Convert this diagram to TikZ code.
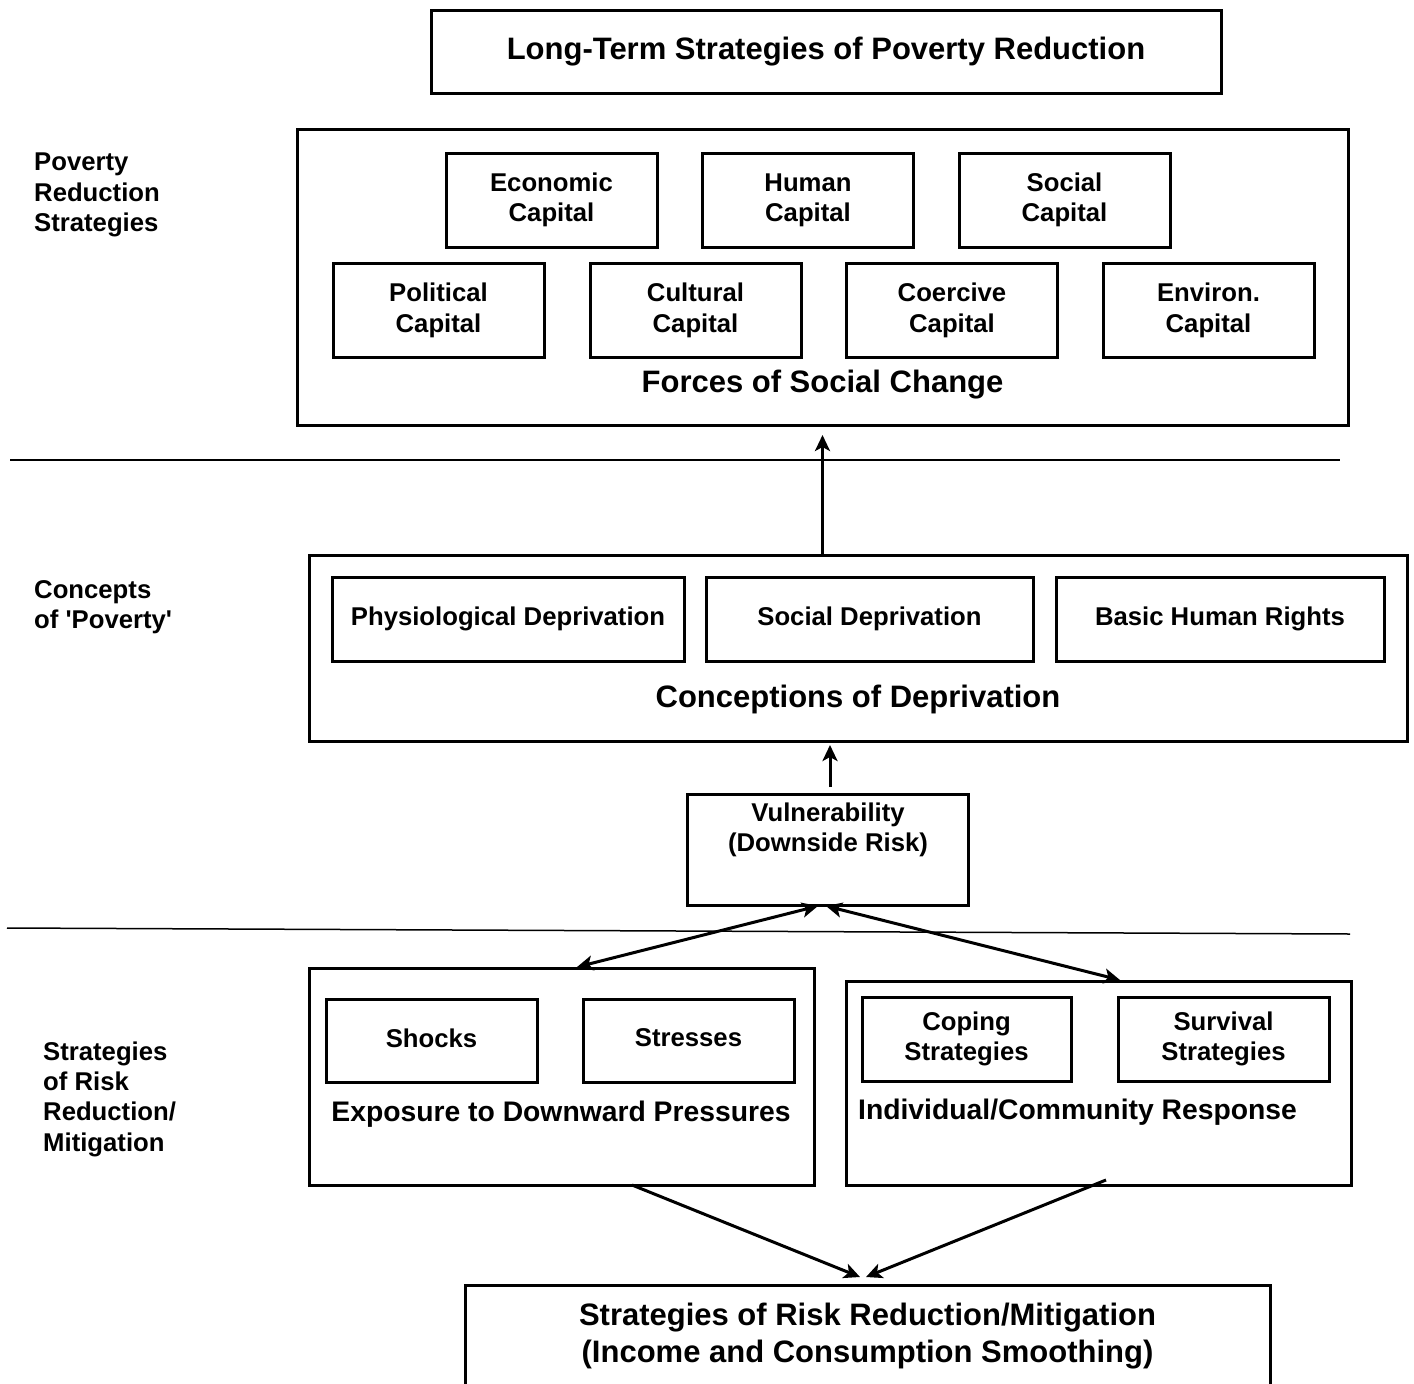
\documentclass[tikz,border=0pt]{standalone}
\usepackage{fontspec}
\setmainfont{Liberation Sans}
\usetikzlibrary{arrows.meta}
\newcommand\myfs{\fontsize{25.7}{30.3}\selectfont\bfseries}
\newcommand\myfm{\fontsize{28.3}{33}\selectfont\bfseries}
\newcommand\myfl{\fontsize{31}{37}\selectfont\bfseries}
\begin{document}
\begin{tikzpicture}[x=1pt,y=-1pt,
  box/.style={draw, line width=3pt, inner sep=0pt, outer sep=0pt, align=center},
  capbox/.style={box, minimum width=211, minimum height=94, font=\myfs},
  depbox/.style={box, minimum height=84, font=\myfs},
  subbox/.style={box, minimum height=84, font=\myfs},
  txtnode/.style={inner sep=0pt, outer sep=0pt, align=center},
  lblnode/.style={inner sep=0pt, anchor=west, align=left, font=\myfs},
  sepline/.style={line width=1.5pt},
  arr/.style={line width=3pt, -{Stealth[length=16pt,width=15pt,inset=4pt]}},
  darr/.style={line width=3pt, {Stealth[length=16pt,width=15pt,inset=4pt]}-{Stealth[length=16pt,width=15pt,inset=4pt]}}
]
\useasboundingbox (0,0) rectangle (1414,1384);

% top title
\node[box, minimum width=790, minimum height=83, font=\myfl] (title) at (826,51.5) {Long-Term Strategies of Poverty Reduction};

% forces of social change
\node[box, minimum width=1051, minimum height=296] (fsc) at (822.5,277) {};
\node[capbox] (econ) at (551.5,200) {Economic\\Capital};
\node[capbox] (human) at (808,200) {Human\\Capital};
\node[capbox] (social) at (1064.5,200) {Social\\Capital};
\node[capbox] (polit) at (438.5,310.5) {Political\\Capital};
\node[capbox] (cult) at (695.5,310.5) {Cultural\\Capital};
\node[capbox] (coerc) at (952,310.5) {Coercive\\Capital};
\node[capbox] (envir) at (1208.5,310.5) {Environ.\\Capital};
\node[txtnode, font=\myfl, anchor=base] (fsct) at (822.5,392) {Forces of Social Change};

\node[lblnode] (lab1) at (34,195) {Poverty\\Reduction\\Strategies};

\draw[sepline] (10,460) coordinate (h1a) -- (1340,460) coordinate (h1b);

% conceptions of deprivation
\node[box, minimum width=1098, minimum height=186] (cod) at (858,648) {};
\node[depbox, minimum width=352] (phys) at (508,619) {Physiological Deprivation};
\node[depbox, minimum width=327] (socdep) at (869.5,619) {Social Deprivation};
\node[depbox, minimum width=328] (bhr) at (1220,619) {Basic Human Rights};
\node[txtnode, font=\myfl, anchor=base] (codt) at (858,707) {Conceptions of Deprivation};

\node[lblnode] (lab2) at (34,607) {Concepts\\of \textquotesingle Poverty\textquotesingle};

\draw[arr] (cod.north -| fsc.south) -- ([yshift=-10pt]fsc.south);

% vulnerability
\node[box, minimum width=281, minimum height=111] (vul) at (827.5,849.5) {};
\node[txtnode, font=\myfs] (vult) at (828,830) {Vulnerability\\(Downside Risk)};
\coordinate (a2s) at (830,787);
\coordinate (a2e) at (830,745);
\draw[arr] (a2s) -- (a2e);

\draw[sepline] (7,928) coordinate (h2a) -- (1350,934) coordinate (h2b);

% exposure
\node[box, minimum width=505, minimum height=217] (exp) at (561.5,1076.5) {};
\node[subbox, minimum width=211, minimum height=83, text depth=5.5pt] (shocks) at (431.5,1040.5) {Shocks};
\node[subbox, minimum width=211, minimum height=83, text depth=5.5pt] (stress) at (688.5,1040.5) {Stresses};
\node[txtnode, font=\myfm, anchor=base] (expt) at (561,1121) {Exposure to Downward Pressures};

% response
\node[box, minimum width=505, minimum height=204] (resp) at (1098.5,1083) {};
\node[subbox, minimum width=209] (coping) at (966.5,1039) {Coping\\Strategies};
\node[subbox, minimum width=211] (surv) at (1223.5,1039) {Survival\\Strategies};
\node[txtnode, font=\myfm, anchor=base] (respt) at (1077.5,1119) {Individual/Community Response};

\node[lblnode] (lab3) at (43,1099) {Strategies\\of Risk\\Reduction/\\Mitigation};

% vulnerability arrows
\coordinate (vl) at (818,906);
\coordinate (vr) at (826,906);
\coordinate (el) at (577,967);
\coordinate (er) at (1120,980);
\draw[darr] (vl) -- (el);
\draw[darr] (vr) -- (er);

% bottom
\node[box, minimum width=805, minimum height=120] (srr) at (867.5,1345) {};
\node[txtnode, font=\myfl] (srrt) at (867.5,1336) {Strategies of Risk Reduction/Mitigation\\(Income and Consumption Smoothing)};
\coordinate (ls) at (632,1185);
\coordinate (le) at (860,1277);
\coordinate (rs) at (1106,1180);
\coordinate (re) at (866,1277);
\draw[arr] (ls) -- (le);
\draw[arr] (rs) -- (re);
\end{tikzpicture}
\end{document}
